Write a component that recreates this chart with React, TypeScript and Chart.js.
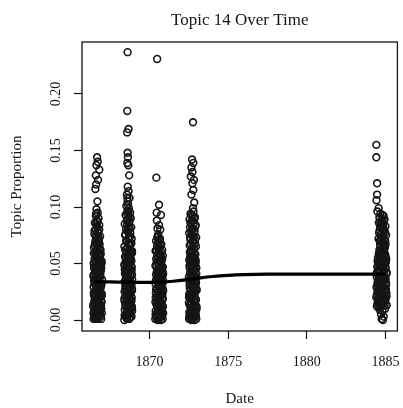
import { useEffect, useRef } from 'react';
import { Chart, registerables } from 'chart.js';

Chart.register(...registerables);

const titleText = 'Topic 14 Over Time';
const xLabel = 'Date';
const yLabel = 'Topic Proportion';
const xTicks = [1870, 1875, 1880, 1885];
const yTicks = [0, 0.05, 0.1, 0.15, 0.2];

const smoothYears = [1866.44, 1867.5, 1868.5, 1869.5, 1870.5, 1871.5, 1872.5, 1873, 1874, 1875, 1876, 1877.5, 1880, 1882.5, 1885.02];
const smoothValues = [0.0338, 0.0337, 0.0335, 0.0334, 0.0336, 0.0343, 0.0358, 0.0368, 0.0385, 0.0396, 0.0402, 0.0406, 0.0407, 0.0407, 0.0407];

const pts1866: [number, number][] = [
  [1866.66, 0.144], [1866.70, 0.140], [1866.62, 0.137], [1866.80, 0.133], [1866.58, 0.128], [1866.72, 0.124], [1866.60, 0.120], [1866.68, 0.105], [1866.55, 0.116],
  [1866.62, 0.098], [1866.70, 0.095], [1866.58, 0.092], [1866.75, 0.090], [1866.64, 0.088], [1866.52, 0.086], [1866.80, 0.084], [1866.68, 0.082], [1866.57, 0.080],
  [1866.73, 0.078], [1866.49, 0.076], [1866.85, 0.074], [1866.61, 0.072], [1866.77, 0.070], [1866.54, 0.068], [1866.69, 0.066], [1866.46, 0.064], [1866.88, 0.062], [1866.63, 0.061],
  [1866.44, 0.001], [1866.58, 0.002], [1866.73, 0.001], [1866.90, 0.003], [1866.51, 0.004], [1866.66, 0.005], [1866.82, 0.004], [1866.96, 0.006],
  [1866.47, 0.008], [1866.62, 0.009], [1866.77, 0.007], [1866.93, 0.010], [1866.55, 0.011], [1866.70, 0.012], [1866.85, 0.013], [1866.43, 0.014],
  [1866.60, 0.015], [1866.75, 0.016], [1866.91, 0.017], [1866.50, 0.018], [1866.65, 0.019], [1866.80, 0.020], [1866.95, 0.021], [1866.46, 0.022],
  [1866.57, 0.023], [1866.72, 0.024], [1866.87, 0.025], [1866.53, 0.026], [1866.68, 0.027], [1866.83, 0.028], [1866.44, 0.029], [1866.61, 0.030],
  [1866.76, 0.031], [1866.92, 0.032], [1866.49, 0.033], [1866.64, 0.034], [1866.79, 0.035], [1866.97, 0.036], [1866.54, 0.037], [1866.69, 0.038],
  [1866.84, 0.039], [1866.45, 0.040], [1866.59, 0.041], [1866.74, 0.042], [1866.89, 0.043], [1866.52, 0.044], [1866.67, 0.045], [1866.82, 0.046],
  [1866.48, 0.047], [1866.63, 0.048], [1866.78, 0.049], [1866.94, 0.050], [1866.56, 0.051], [1866.71, 0.052], [1866.86, 0.053], [1866.50, 0.054],
  [1866.65, 0.055], [1866.81, 0.056], [1866.58, 0.057], [1866.73, 0.058], [1866.88, 0.059], [1866.53, 0.060],
  [1866.52, 0.003], [1866.69, 0.007], [1866.86, 0.009], [1866.41, 0.012], [1866.64, 0.014], [1866.79, 0.018], [1866.95, 0.016], [1866.57, 0.021],
  [1866.74, 0.026], [1866.90, 0.029], [1866.47, 0.035], [1866.71, 0.033], [1866.86, 0.040], [1866.61, 0.043], [1866.44, 0.050], [1866.77, 0.053],
  [1866.92, 0.046], [1866.62, 0.058],
  [1866.43, 0.006], [1866.55, 0.008], [1866.67, 0.010], [1866.79, 0.011], [1866.91, 0.013], [1866.48, 0.015], [1866.60, 0.017], [1866.72, 0.019],
  [1866.84, 0.021], [1866.96, 0.023], [1866.45, 0.024], [1866.57, 0.026], [1866.69, 0.028], [1866.81, 0.030], [1866.93, 0.031], [1866.50, 0.032],
  [1866.62, 0.034], [1866.74, 0.036], [1866.86, 0.038], [1866.42, 0.039], [1866.54, 0.041], [1866.66, 0.043], [1866.78, 0.044], [1866.90, 0.045],
  [1866.47, 0.046], [1866.59, 0.048], [1866.71, 0.050], [1866.83, 0.051], [1866.95, 0.052], [1866.52, 0.053], [1866.64, 0.055], [1866.76, 0.057],
  [1866.88, 0.058], [1866.45, 0.059], [1866.57, 0.061], [1866.69, 0.063], [1866.81, 0.064], [1866.51, 0.066], [1866.66, 0.068], [1866.78, 0.071],
  [1866.60, 0.001], [1866.76, 0.003], [1866.92, 0.001], [1866.48, 0.002], [1866.84, 0.006], [1866.58, 0.074], [1866.72, 0.077], [1866.64, 0.083],
  [1866.70, 0.087], [1866.60, 0.094], [1866.82, 0.067], [1866.56, 0.070], [1866.74, 0.073], [1866.50, 0.079], [1866.80, 0.080], [1866.60, 0.085],
];

const pts1868: [number, number][] = [
  [1868.60, 0.237], [1868.58, 0.185], [1868.57, 0.166], [1868.66, 0.169], [1868.60, 0.148], [1868.62, 0.144], [1868.58, 0.139], [1868.64, 0.137],
  [1868.70, 0.128], [1868.61, 0.118], [1868.66, 0.114], [1868.56, 0.111], [1868.72, 0.108], [1868.60, 0.105],
  [1868.52, 0.101], [1868.68, 0.099], [1868.59, 0.097], [1868.76, 0.095], [1868.47, 0.093], [1868.63, 0.092], [1868.80, 0.090], [1868.55, 0.088],
  [1868.71, 0.087], [1868.42, 0.085], [1868.66, 0.083], [1868.83, 0.082], [1868.50, 0.080], [1868.61, 0.078], [1868.77, 0.077], [1868.45, 0.075],
  [1868.69, 0.073], [1868.86, 0.072], [1868.54, 0.070], [1868.64, 0.068], [1868.79, 0.067], [1868.40, 0.065], [1868.58, 0.063], [1868.73, 0.062], [1868.88, 0.061],
  [1868.39, 0.000], [1868.53, 0.002], [1868.70, 0.001], [1868.85, 0.003], [1868.46, 0.005], [1868.62, 0.004], [1868.78, 0.006], [1868.89, 0.008],
  [1868.42, 0.009], [1868.57, 0.010], [1868.73, 0.011], [1868.87, 0.012], [1868.50, 0.013], [1868.66, 0.014], [1868.81, 0.015], [1868.40, 0.017],
  [1868.55, 0.018], [1868.71, 0.019], [1868.86, 0.020], [1868.47, 0.021], [1868.63, 0.022], [1868.77, 0.023], [1868.41, 0.025], [1868.59, 0.026],
  [1868.74, 0.027], [1868.88, 0.028], [1868.52, 0.029], [1868.67, 0.030], [1868.82, 0.031], [1868.44, 0.033], [1868.60, 0.034], [1868.75, 0.035],
  [1868.89, 0.036], [1868.49, 0.037], [1868.64, 0.038], [1868.80, 0.039], [1868.43, 0.041], [1868.56, 0.042], [1868.72, 0.043], [1868.86, 0.044],
  [1868.51, 0.045], [1868.68, 0.046], [1868.83, 0.047], [1868.39, 0.049], [1868.61, 0.050], [1868.76, 0.051], [1868.48, 0.052], [1868.65, 0.053],
  [1868.81, 0.054], [1868.44, 0.056], [1868.58, 0.057], [1868.74, 0.058], [1868.87, 0.059], [1868.53, 0.060],
  [1868.48, 0.003], [1868.65, 0.007], [1868.82, 0.010], [1868.45, 0.014], [1868.60, 0.016], [1868.79, 0.018], [1868.53, 0.024], [1868.70, 0.023],
  [1868.85, 0.032], [1868.46, 0.030], [1868.62, 0.040], [1868.78, 0.044], [1868.55, 0.048], [1868.70, 0.055], [1868.84, 0.052], [1868.42, 0.045],
  [1868.67, 0.036], [1868.57, 0.006],
  [1868.41, 0.004], [1868.54, 0.006], [1868.67, 0.008], [1868.80, 0.009], [1868.88, 0.011], [1868.46, 0.012], [1868.59, 0.014], [1868.72, 0.016],
  [1868.85, 0.017], [1868.40, 0.019], [1868.52, 0.021], [1868.65, 0.023], [1868.78, 0.024], [1868.88, 0.026], [1868.45, 0.027], [1868.57, 0.029],
  [1868.70, 0.031], [1868.83, 0.032], [1868.41, 0.034], [1868.54, 0.036], [1868.66, 0.037], [1868.79, 0.039], [1868.88, 0.040], [1868.47, 0.042],
  [1868.60, 0.044], [1868.73, 0.045], [1868.86, 0.047], [1868.43, 0.048], [1868.56, 0.050], [1868.69, 0.052], [1868.82, 0.053], [1868.49, 0.055],
  [1868.62, 0.057], [1868.75, 0.059], [1868.88, 0.060], [1868.45, 0.062], [1868.58, 0.064], [1868.71, 0.066], [1868.84, 0.068], [1868.51, 0.070],
  [1868.64, 0.072], [1868.77, 0.074], [1868.47, 0.076], [1868.60, 0.079], [1868.73, 0.081], [1868.56, 0.084], [1868.69, 0.086], [1868.61, 0.089],
  [1868.74, 0.091], [1868.57, 0.094], [1868.66, 0.096], [1868.63, 0.102], [1868.59, 0.108], [1868.56, 0.001], [1868.76, 0.002],
];

const pts1870: [number, number][] = [
  [1870.48, 0.231], [1870.43, 0.126], [1870.60, 0.102], [1870.45, 0.095], [1870.72, 0.093], [1870.46, 0.088], [1870.60, 0.084], [1870.50, 0.081],
  [1870.68, 0.080], [1870.55, 0.076],
  [1870.52, 0.074], [1870.66, 0.072], [1870.41, 0.070], [1870.58, 0.069], [1870.74, 0.067], [1870.47, 0.065], [1870.63, 0.064], [1870.80, 0.062],
  [1870.38, 0.061], [1870.55, 0.059], [1870.70, 0.058], [1870.84, 0.057],
  [1870.36, 0.001], [1870.51, 0.000], [1870.67, 0.002], [1870.83, 0.001], [1870.44, 0.004], [1870.59, 0.005], [1870.75, 0.003], [1870.86, 0.006],
  [1870.39, 0.008], [1870.54, 0.009], [1870.70, 0.010], [1870.81, 0.011], [1870.47, 0.012], [1870.62, 0.013], [1870.77, 0.014], [1870.37, 0.016],
  [1870.53, 0.017], [1870.68, 0.018], [1870.84, 0.019], [1870.43, 0.020], [1870.60, 0.021], [1870.74, 0.022], [1870.40, 0.024], [1870.56, 0.025],
  [1870.71, 0.026], [1870.85, 0.027], [1870.48, 0.028], [1870.64, 0.029], [1870.79, 0.030], [1870.38, 0.032], [1870.57, 0.033], [1870.72, 0.034],
  [1870.86, 0.035], [1870.45, 0.036], [1870.61, 0.037], [1870.76, 0.038], [1870.41, 0.040], [1870.53, 0.041], [1870.69, 0.042], [1870.82, 0.043],
  [1870.49, 0.044], [1870.65, 0.045], [1870.80, 0.046], [1870.37, 0.048], [1870.58, 0.049], [1870.73, 0.050], [1870.46, 0.051], [1870.62, 0.052],
  [1870.78, 0.053], [1870.42, 0.054], [1870.56, 0.055],
  [1870.45, 0.002], [1870.62, 0.007], [1870.79, 0.008], [1870.50, 0.015], [1870.66, 0.016], [1870.82, 0.023], [1870.42, 0.027], [1870.60, 0.031],
  [1870.76, 0.034], [1870.51, 0.039], [1870.67, 0.047], [1870.84, 0.040], [1870.54, 0.022], [1870.70, 0.004],
  [1870.38, 0.005], [1870.50, 0.006], [1870.63, 0.008], [1870.76, 0.009], [1870.85, 0.012], [1870.43, 0.014], [1870.56, 0.015], [1870.69, 0.017],
  [1870.82, 0.018], [1870.39, 0.020], [1870.51, 0.022], [1870.64, 0.023], [1870.77, 0.025], [1870.86, 0.026], [1870.44, 0.028], [1870.57, 0.030],
  [1870.70, 0.031], [1870.83, 0.033], [1870.40, 0.035], [1870.52, 0.036], [1870.65, 0.038], [1870.78, 0.039], [1870.86, 0.041], [1870.46, 0.043],
  [1870.59, 0.044], [1870.72, 0.046], [1870.84, 0.047], [1870.42, 0.049], [1870.55, 0.051], [1870.68, 0.053], [1870.80, 0.054], [1870.48, 0.056],
  [1870.61, 0.058], [1870.74, 0.060], [1870.44, 0.062], [1870.57, 0.063], [1870.67, 0.066], [1870.53, 0.068], [1870.63, 0.071], [1870.49, 0.073],
  [1870.58, 0.001], [1870.73, 0.000], [1870.41, 0.003], [1870.80, 0.004], [1870.66, 0.011],
];

const pts1872: [number, number][] = [
  [1872.76, 0.175], [1872.70, 0.142], [1872.78, 0.139], [1872.66, 0.135], [1872.72, 0.131], [1872.62, 0.127], [1872.82, 0.124], [1872.72, 0.121],
  [1872.78, 0.115], [1872.66, 0.111], [1872.84, 0.104], [1872.76, 0.099],
  [1872.60, 0.094], [1872.75, 0.092], [1872.88, 0.091], [1872.54, 0.089], [1872.69, 0.088], [1872.83, 0.086], [1872.63, 0.085], [1872.93, 0.084],
  [1872.57, 0.082], [1872.72, 0.081], [1872.86, 0.079], [1872.52, 0.077], [1872.66, 0.076], [1872.80, 0.074], [1872.96, 0.073], [1872.59, 0.071],
  [1872.74, 0.070], [1872.89, 0.068], [1872.55, 0.066], [1872.70, 0.064], [1872.84, 0.063], [1872.62, 0.061],
  [1872.51, 0.001], [1872.66, 0.000], [1872.81, 0.002], [1872.97, 0.001], [1872.58, 0.004], [1872.73, 0.005], [1872.89, 0.003], [1872.53, 0.007],
  [1872.68, 0.008], [1872.84, 0.009], [1872.99, 0.010], [1872.61, 0.011], [1872.76, 0.012], [1872.92, 0.013], [1872.50, 0.015], [1872.65, 0.016],
  [1872.80, 0.017], [1872.95, 0.018], [1872.57, 0.019], [1872.72, 0.020], [1872.87, 0.021], [1872.52, 0.023], [1872.69, 0.024], [1872.83, 0.025],
  [1872.98, 0.026], [1872.60, 0.027], [1872.75, 0.028], [1872.90, 0.029], [1872.54, 0.031], [1872.70, 0.032], [1872.85, 0.033], [1872.63, 0.034],
  [1872.78, 0.035], [1872.94, 0.036], [1872.50, 0.038], [1872.67, 0.039], [1872.82, 0.040], [1872.97, 0.041], [1872.59, 0.042], [1872.74, 0.043],
  [1872.89, 0.044], [1872.55, 0.046], [1872.71, 0.047], [1872.86, 0.048], [1872.62, 0.049], [1872.77, 0.050], [1872.93, 0.051], [1872.52, 0.053],
  [1872.68, 0.054], [1872.83, 0.055], [1872.58, 0.056], [1872.74, 0.057], [1872.91, 0.058], [1872.64, 0.059],
  [1872.56, 0.006], [1872.78, 0.006], [1872.62, 0.014], [1872.88, 0.016], [1872.55, 0.022], [1872.79, 0.024], [1872.66, 0.030], [1872.92, 0.031],
  [1872.57, 0.036], [1872.81, 0.037], [1872.70, 0.044], [1872.95, 0.047], [1872.60, 0.052], [1872.86, 0.053], [1872.73, 0.060], [1872.93, 0.007],
  [1872.52, 0.003], [1872.64, 0.005], [1872.77, 0.008], [1872.90, 0.009], [1872.98, 0.012], [1872.55, 0.013], [1872.68, 0.015], [1872.81, 0.016],
  [1872.94, 0.018], [1872.51, 0.020], [1872.63, 0.022], [1872.76, 0.023], [1872.89, 0.025], [1872.99, 0.027], [1872.56, 0.028], [1872.69, 0.030],
  [1872.82, 0.031], [1872.95, 0.033], [1872.52, 0.035], [1872.65, 0.036], [1872.78, 0.038], [1872.91, 0.039], [1872.58, 0.041], [1872.71, 0.043],
  [1872.84, 0.045], [1872.97, 0.046], [1872.54, 0.048], [1872.67, 0.050], [1872.80, 0.052], [1872.93, 0.053], [1872.60, 0.055], [1872.73, 0.057],
  [1872.86, 0.059], [1872.56, 0.060], [1872.69, 0.062], [1872.82, 0.064], [1872.95, 0.065], [1872.62, 0.067], [1872.75, 0.069], [1872.88, 0.071],
  [1872.58, 0.073], [1872.71, 0.075], [1872.84, 0.077], [1872.64, 0.079], [1872.78, 0.081], [1872.91, 0.083], [1872.60, 0.086], [1872.73, 0.088],
  [1872.86, 0.090], [1872.67, 0.093], [1872.79, 0.096], [1872.70, 0.001], [1872.86, 0.000], [1872.60, 0.002], [1872.94, 0.004],
];

const pts1884: [number, number][] = [
  [1884.42, 0.155], [1884.42, 0.144], [1884.47, 0.121], [1884.47, 0.111], [1884.43, 0.106], [1884.57, 0.099], [1884.49, 0.096], [1884.88, 0.092],
  [1884.68, 0.094], [1884.81, 0.093], [1884.62, 0.091], [1884.94, 0.089], [1884.74, 0.088], [1884.58, 0.086], [1884.86, 0.085], [1885.00, 0.083],
  [1884.66, 0.082], [1884.80, 0.080], [1884.92, 0.079], [1884.60, 0.077], [1884.73, 0.076], [1885.04, 0.075], [1884.84, 0.074], [1884.56, 0.072],
  [1884.69, 0.071], [1884.96, 0.070], [1884.78, 0.069], [1884.90, 0.068],
  [1884.64, 0.090], [1884.78, 0.087], [1884.70, 0.084], [1884.88, 0.081], [1884.62, 0.079], [1884.98, 0.077], [1884.76, 0.073], [1884.64, 0.070],
  [1884.46, 0.012], [1884.62, 0.013], [1884.78, 0.014], [1884.94, 0.015], [1885.08, 0.013], [1884.53, 0.016], [1884.69, 0.017], [1884.85, 0.018],
  [1885.01, 0.019], [1884.42, 0.020], [1884.58, 0.021], [1884.74, 0.022], [1884.90, 0.023], [1885.06, 0.024], [1884.49, 0.025], [1884.65, 0.026],
  [1884.81, 0.027], [1884.97, 0.028], [1884.43, 0.029], [1884.56, 0.030], [1884.72, 0.031], [1884.88, 0.032], [1885.04, 0.033], [1884.51, 0.034],
  [1884.67, 0.035], [1884.83, 0.036], [1884.99, 0.037], [1884.45, 0.038], [1884.60, 0.039], [1884.76, 0.040], [1884.92, 0.041], [1885.08, 0.042],
  [1884.54, 0.043], [1884.70, 0.044], [1884.86, 0.045], [1885.02, 0.046], [1884.48, 0.047], [1884.63, 0.048], [1884.79, 0.049], [1884.95, 0.050],
  [1884.57, 0.051], [1884.73, 0.052], [1884.89, 0.053], [1885.05, 0.054], [1884.52, 0.055], [1884.66, 0.056], [1884.82, 0.057], [1884.98, 0.058],
  [1884.59, 0.059], [1884.75, 0.060], [1884.91, 0.061], [1884.64, 0.062], [1884.80, 0.063], [1884.96, 0.064], [1884.68, 0.065], [1884.85, 0.066], [1885.01, 0.067],
  [1884.54, 0.019], [1884.80, 0.020], [1885.03, 0.027], [1884.61, 0.033], [1884.86, 0.038], [1884.51, 0.041], [1884.75, 0.047], [1885.00, 0.052],
  [1884.62, 0.057], [1884.87, 0.060], [1884.70, 0.028], [1884.93, 0.036], [1884.66, 0.044],
  [1884.63, 0.009], [1884.81, 0.008], [1884.72, 0.005], [1884.89, 0.003], [1884.76, 0.001], [1884.60, 0.011], [1884.98, 0.010], [1884.84, 0.000],
  [1884.48, 0.014], [1884.65, 0.015], [1884.82, 0.016], [1884.99, 0.017], [1884.56, 0.018], [1884.73, 0.019], [1884.90, 0.020], [1885.07, 0.021],
  [1884.45, 0.022], [1884.62, 0.024], [1884.79, 0.025], [1884.96, 0.026], [1884.53, 0.027], [1884.70, 0.029], [1884.87, 0.030], [1885.04, 0.031],
  [1884.49, 0.032], [1884.66, 0.034], [1884.83, 0.035], [1885.00, 0.036], [1884.57, 0.037], [1884.74, 0.039], [1884.91, 0.040], [1885.07, 0.041],
  [1884.46, 0.042], [1884.63, 0.044], [1884.80, 0.045], [1884.97, 0.046], [1884.54, 0.048], [1884.71, 0.049], [1884.88, 0.050], [1885.03, 0.051],
  [1884.50, 0.052], [1884.67, 0.054], [1884.84, 0.055], [1885.01, 0.056], [1884.58, 0.058], [1884.75, 0.059], [1884.92, 0.060], [1884.62, 0.062],
  [1884.79, 0.064], [1884.96, 0.065], [1884.66, 0.067], [1884.83, 0.069], [1884.99, 0.070], [1884.71, 0.072], [1884.87, 0.074], [1884.76, 0.077],
  [1884.93, 0.079], [1884.82, 0.083], [1884.67, 0.086], [1884.90, 0.088], [1884.58, 0.016], [1884.76, 0.012], [1884.94, 0.013],
];

const FONT = '"Liberation Serif", "Times New Roman", serif';
const INK = '#151515';

const boxPlugin = {
  id: 'plotBox',
  afterDraw(chart: any) {
    const { ctx, chartArea } = chart;
    ctx.save();
    ctx.strokeStyle = INK;
    ctx.lineWidth = 1.3;
    ctx.strokeRect(chartArea.left, chartArea.top, chartArea.right - chartArea.left, chartArea.bottom - chartArea.top);
    ctx.restore();
  },
};

export default function App() {
  const ref = useRef<HTMLCanvasElement>(null);
  useEffect(() => {
    const points = [...pts1866, ...pts1868, ...pts1870, ...pts1872, ...pts1884].map(([x, y]) => ({ x, y }));
    const smooth = smoothYears.map((x, i) => ({ x, y: smoothValues[i] }));
    const chart = new Chart(ref.current as HTMLCanvasElement, {
      type: 'scatter',
      data: {
        datasets: [
          {
            label: 'smooth',
            data: smooth,
            showLine: true,
            borderColor: '#000',
            borderWidth: 3.2,
            pointRadius: 0,
            tension: 0.4,
            fill: false,
            order: 0,
          } as any,
          {
            label: 'documents',
            data: points,
            pointRadius: 3.4,
            pointBorderWidth: 1.6,
            borderColor: INK,
            backgroundColor: 'rgba(0,0,0,0)',
            pointBackgroundColor: 'rgba(0,0,0,0)',
            pointBorderColor: INK,
            order: 1,
          } as any,
        ],
      },
      options: {
        responsive: false,
        animation: false,
        devicePixelRatio: 1,
        layout: { padding: { left: 0, right: 3, top: 0, bottom: 0 } },
        plugins: {
          legend: { display: false },
          tooltip: { enabled: false },
          title: {
            display: true,
            text: titleText,
            fullSize: false,
            color: INK,
            font: { family: FONT, size: 17, weight: 'normal' },
            padding: { top: 10, bottom: 11.6 },
          },
        },
        scales: {
          x: {
            type: 'linear',
            min: 1865.7,
            max: 1885.76,
            afterBuildTicks: (s: any) => { s.ticks = xTicks.map((v) => ({ value: v })); },
            afterFit: (s: any) => { s.height = 77; s.paddingLeft = 0; s.paddingRight = 0; },
            grid: { drawOnChartArea: false, drawTicks: true, tickLength: 8, tickColor: INK, tickWidth: 1.2 },
            border: { display: false },
            ticks: { color: INK, font: { family: FONT, size: 14 }, padding: 15, maxRotation: 0, autoSkip: false, callback: (v: any) => String(v) },
            title: { display: true, text: xLabel, color: INK, font: { family: FONT, size: 15 }, padding: { top: 0, bottom: 0 } },
          },
          y: {
            type: 'linear',
            min: -0.0097,
            max: 0.246,
            afterBuildTicks: (s: any) => { s.ticks = yTicks.map((v) => ({ value: v })); },
            afterFit: (s: any) => { s.width = 82; s.paddingTop = 0; s.paddingBottom = 0; },
            grid: { drawOnChartArea: false, drawTicks: true, tickLength: 8, tickColor: INK, tickWidth: 1.2 },
            border: { display: false },
            ticks: { color: INK, font: { family: FONT, size: 14 }, padding: 5, minRotation: 90, maxRotation: 90, crossAlign: 'center', autoSkip: false, callback: (v: any) => Number(v).toFixed(2) },
            title: { display: true, text: yLabel, color: INK, font: { family: FONT, size: 15 }, padding: { top: 8, bottom: 0 } },
          },
        },
      },
      plugins: [boxPlugin],
    });
    return () => chart.destroy();
  }, []);
  return (
    <div style={{ position: 'absolute', left: 0, top: 0, width: 403, height: 408, background: '#fff' }}>
      <canvas ref={ref} width={403} height={408} style={{ display: 'block' }} />
    </div>
  );
}
